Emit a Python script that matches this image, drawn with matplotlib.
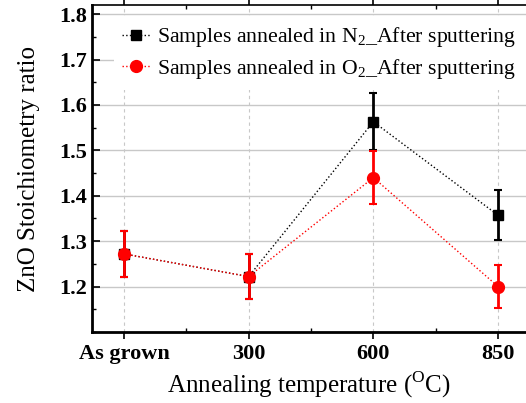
import numpy as np
import matplotlib
matplotlib.use("Agg")
import matplotlib.pyplot as plt
from matplotlib.ticker import MultipleLocator, FixedLocator
from matplotlib.lines import Line2D

plt.rcParams['font.family'] = ['Liberation Serif', 'DejaVu Serif']
plt.rcParams['mathtext.fontset'] = 'custom'
plt.rcParams['mathtext.rm'] = 'Liberation Serif'

# data
categorias = ["As grown", "300", "600", "850"]
n2_ratio = [1.272, 1.222, 1.563, 1.357]
n2_err = [0.050, 0.049, 0.063, 0.055]
o2_ratio = [1.272, 1.222, 1.440, 1.200]
o2_err = [0.050, 0.049, 0.058, 0.048]
y_ticks = [1.2, 1.3, 1.4, 1.5, 1.6, 1.7, 1.8]

x = np.arange(len(categorias))

fig = plt.figure(figsize=(5.26, 4.03), dpi=100)
ax = fig.add_axes([92 / 526, 1 - 332 / 403, 1 - 92 / 526, (332 - 5) / 403])

ax.errorbar(x, n2_ratio, yerr=n2_err, color="black", ls=":", lw=1, marker="s",
            ms=7, elinewidth=2, capsize=3, capthick=1.5, zorder=3)
ax.errorbar(x, o2_ratio, yerr=o2_err, color="red", ls=":", lw=1, marker="o",
            ms=8.5, elinewidth=2, capsize=3, capthick=1.5, zorder=4)

ax.set_xlim(-0.256, 3.224)
ax.set_ylim(1.1, 1.82)
ax.set_xticks(x)
ax.set_xticklabels(categorias, fontsize=16, fontweight="bold")
ax.set_xticks(x[:-1] + 0.5, minor=True)
ax.yaxis.set_major_locator(FixedLocator(y_ticks))
ax.yaxis.set_minor_locator(MultipleLocator(0.05))
ax.set_yticklabels([f"{v:.1f}" for v in y_ticks], fontsize=16, fontweight="bold")

ax.tick_params(axis="y", which="major", direction="in", length=6, width=1.2)
ax.tick_params(axis="y", which="minor", direction="in", length=3, width=1)
ax.tick_params(axis="x", which="major", direction="out", length=5, width=1.2, top=True)
ax.tick_params(axis="x", which="minor", direction="in", length=3, width=1, top=True)

ax.grid(axis="y", which="major", color="#c8c8c8", lw=1)
ax.grid(axis="x", which="major", color="#c8c8c8", lw=0.8, ls=(0, (3, 3)))
ax.set_axisbelow(True)

ax.spines["right"].set_visible(False)
ax.spines["left"].set_linewidth(2)
ax.spines["bottom"].set_linewidth(2)
ax.spines["top"].set_linewidth(1.2)

ax.set_ylabel("ZnO Stoichiometry ratio", fontsize=18, labelpad=14)
ax.set_xlabel("Annealing temperature ($^{\\mathrm{O}}$C)", fontsize=18)

handles = [
    Line2D([], [], color="black", ls=":", lw=1, marker="s", ms=7),
    Line2D([], [], color="red", ls=":", lw=1, marker="o", ms=8.5),
]
labels = ["Samples annealed in N$_2$_After sputtering",
          "Samples annealed in O$_2$_After sputtering"]
leg = ax.legend(handles, labels, loc="upper left", bbox_to_anchor=(0.05, 0.0, 0.95, 0.965),
                mode="expand", fontsize=15.7, frameon=True, framealpha=1, edgecolor="none",
                fancybox=False, handlelength=1.25, handletextpad=0.35,
                borderaxespad=0.0, labelspacing=0.35)
leg.set_zorder(5)

fig.savefig("out.png", dpi=100)
